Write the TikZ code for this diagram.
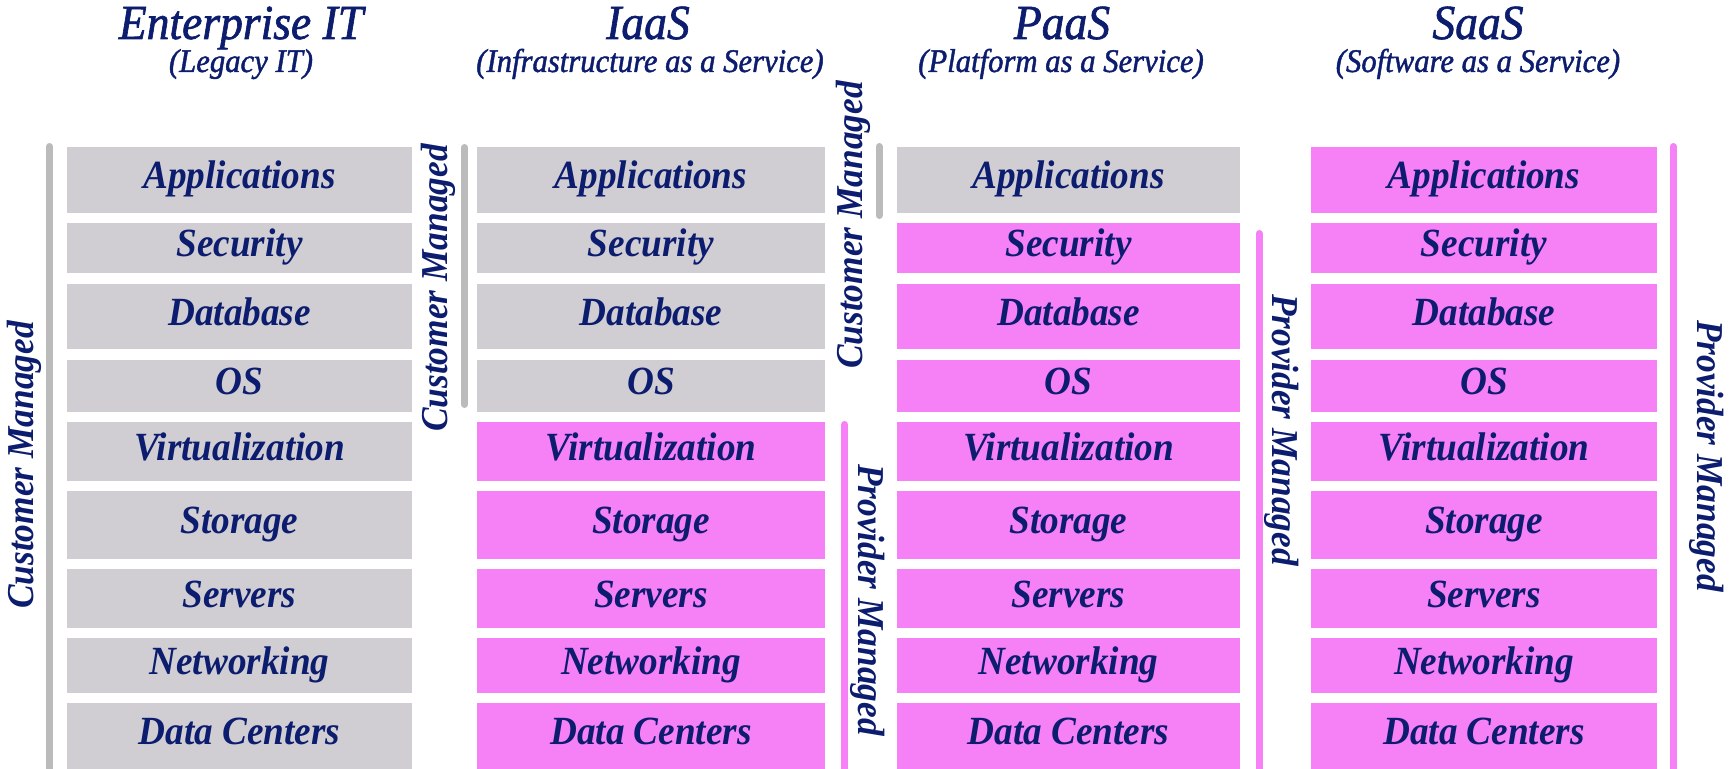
\documentclass[tikz,border=0pt]{standalone}
\usepackage{fontspec}
\setmainfont{Liberation Serif}[FakeStretch=0.93]
% headings: regular italic, slightly thickened
\newfontfamily\headfont{Liberation Serif}[FakeStretch=0.93, FakeBold=1.3]

\definecolor{navy}{RGB}{12,28,110}
\definecolor{boxgray}{RGB}{208,206,211}
\definecolor{boxpink}{RGB}{246,128,246}
\definecolor{bargray}{RGB}{187,187,187}

% one layer of a stack: name, fill colour, x1, x2, y1, y2, label
\newcommand{\layerbox}[7]{%
  \pgfmathsetmacro{\lw}{(#4-#3)/2}%
  \pgfmathsetmacro{\lh}{(#6-#5)/2}%
  \node[layer, fill=#2, minimum width=\lw pt, minimum height=\lh pt]
    (#1) at ({(#3+#4)/2},{(#5+#6)/2}) {#7};}

\begin{document}
\begin{tikzpicture}[x=0.5pt, y=-0.5pt,
  layer/.style={inner sep=0pt, text height=13pt, text depth=4pt,
    font=\fontsize{20}{24}\selectfont\bfseries\itshape, text=navy},
  sidelabel/.style={inner sep=0pt, text=navy,
    font=\fontsize{19}{22}\selectfont\bfseries\itshape},
  coltitle/.style={inner sep=0pt, anchor=base, text=navy,
    font=\headfont\fontsize{24.5}{28}\selectfont\itshape},
  colsub/.style={inner sep=0pt, anchor=base, text=navy,
    font=\headfont\fontsize{16.5}{19}\selectfont\itshape},
  cbar/.style={draw=bargray, line width=3.5pt, line cap=round},
  pbar/.style={draw=boxpink, line width=3.5pt, line cap=round}]

\fill[white] (0,0) rectangle (1730,769);
\useasboundingbox (0,0) rectangle (1730,769);

% column headings
\node[coltitle] (t1) at (241,39) {Enterprise IT};
\node[colsub]   (s1) at (241,72) {(Legacy IT)};
\node[coltitle] (t2) at (648,39) {IaaS};
\node[colsub]   (s2) at (650,72) {(Infrastructure as a Service)};
\node[coltitle] (t3) at (1062,39) {PaaS};
\node[colsub]   (s3) at (1061,72) {(Platform as a Service)};
\node[coltitle] (t4) at (1478,39) {SaaS};
\node[colsub]   (s4) at (1478,72) {(Software as a Service)};

% stacks: column name / left / right / number of customer-managed layers
\foreach \col/\xa/\xb/\nc in {ent/67/412/9, iaas/477/825/4, paas/897/1240/1, saas/1311/1657/0}{
  \foreach \nm/\ya/\yb/\txt [count=\i] in {
      app/147/213/Applications, sec/223/273/Security, db/284/349/Database,
      os/360/412/OS, virt/422/481/Virtualization, stor/491/559/Storage,
      serv/569/628/Servers, net/638/693/Networking, dc/703/769/Data Centers}{
    \ifnum\i>\nc\relax \def\fc{boxpink}\else \def\fc{boxgray}\fi
    \layerbox{\col-\nm}{\fc}{\xa}{\xb}{\ya}{\yb}{\txt}
  }
}

% management brackets
\draw[cbar] (49.5,146.5) -- (49.5,790);
\draw[cbar] (464.5,147.5) -- (464.5,404.5);
\draw[cbar] (879,146.5) -- (879,215.5);
\draw[pbar] (844.5,424.5) -- (844.5,790);
\draw[pbar] (1259,233.5) -- (1259,790);
\draw[pbar] (1673,146.5) -- (1673,790);

% bracket labels
\node[sidelabel, rotate=90]  (cm1) at (24,465)   {Customer Managed};
\node[sidelabel, rotate=90]  (cm2) at (438,288)  {Customer Managed};
\node[sidelabel, rotate=90]  (cm3) at (853,225)  {Customer Managed};
\node[sidelabel, rotate=-90] (pm2) at (868,600)  {Provider Managed};
\node[sidelabel, rotate=-90] (pm3) at (1282,430) {Provider Managed};
\node[sidelabel, rotate=-90] (pm4) at (1707,456) {Provider Managed};
\end{tikzpicture}
\end{document}
